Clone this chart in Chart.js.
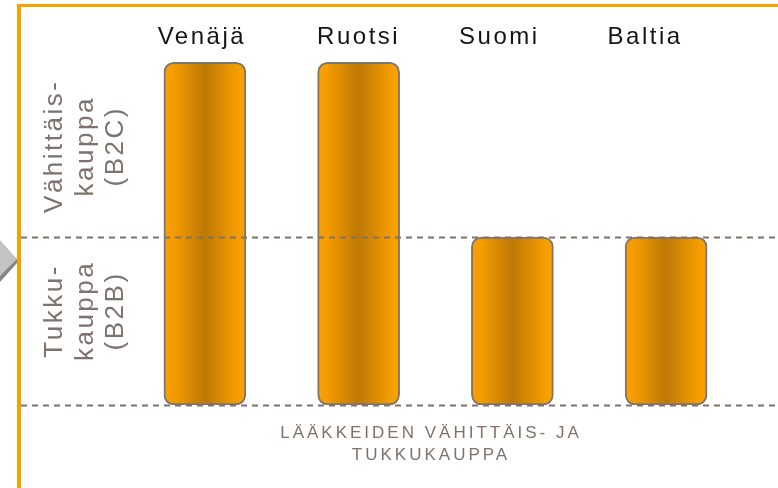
<!DOCTYPE html>
<html>
<head>
<meta charset="utf-8">
<script src="https://cdn.jsdelivr.net/npm/chart.js@4"></script>
<style>
  body { margin: 0; background: #fff; }
  #wrap { width: 778px; height: 488px; }
</style>
</head>
<body>
<div id="wrap"><canvas id="barChart" width="778" height="488"></canvas></div>
<script>
// data
var categories = ['Venäjä', 'Ruotsi', 'Suomi', 'Baltia'];
var values = [2.04, 2.04, 1, 1];
var levels = [0, 1];                       // dashed reference lines
var sideTop = ['Vähittäis-', 'kauppa', '(B2C)'];
var sideBottom = ['Tukku-', 'kauppa', '(B2B)'];
var caption = ['LÄÄKKEIDEN VÄHITTÄIS- JA', 'TUKKUKAUPPA'];

var FONT = '"Liberation Sans", Arial, sans-serif';
var ORANGE = '#f6a300';
var GREY = '#7d726c';
var labelShift = [-3, 0, -13, -21];        // headers are not quite centred on the bars

var decor = {
    id: 'decor',
    beforeDraw: function (chart) {
        var c = chart.ctx;
        c.save();
        // orange frame
        c.fillStyle = ORANGE;
        c.fillRect(17, 4, 4, 484);
        c.fillRect(17, 4, 761, 3);
        // grey arrow on the left
        c.fillStyle = '#858585';
        c.beginPath();
        c.moveTo(0, 250); c.lineTo(17, 259); c.lineTo(17, 263); c.lineTo(0, 282);
        c.closePath(); c.fill();
        c.fillStyle = '#c3c3c3';
        c.beginPath();
        c.moveTo(0, 240); c.lineTo(17, 259); c.lineTo(0, 276);
        c.closePath(); c.fill();
        c.restore();
    },
    afterDatasetsDraw: function (chart) {
        var c = chart.ctx, y = chart.scales.y;
        c.save();
        c.strokeStyle = GREY;
        c.lineWidth = 2;
        c.setLineDash([6, 5]);
        levels.forEach(function (v) {
            var py = Math.round(y.getPixelForValue(v)) + 0.5;
            c.beginPath();
            c.moveTo(21, py);
            c.lineTo(chart.width, py);
            c.stroke();
        });
        c.restore();
    },
    afterDraw: function (chart) {
        var c = chart.ctx, x = chart.scales.x, y = chart.scales.y;
        c.save();
        c.textAlign = 'center';
        c.textBaseline = 'alphabetic';
        // category headers
        c.fillStyle = '#141414';
        c.font = '24px ' + FONT;
        c.letterSpacing = '2.5px';
        categories.forEach(function (t, i) {
            c.fillText(t, x.getPixelForValue(i) + labelShift[i], 44);
        });
        // rotated row labels
        c.fillStyle = GREY;
        c.font = '26px ' + FONT;
        var baselines = [62, 92.5, 123];
        [[sideTop, 1.54], [sideBottom, 0.56]].forEach(function (blk) {
            c.save();
            c.translate(0, y.getPixelForValue(blk[1]));
            c.rotate(-Math.PI / 2);
            blk[0].forEach(function (t, i) { c.fillText(t, 0, baselines[i]); });
            c.restore();
        });
        // caption
        c.font = '17px ' + FONT;
        c.letterSpacing = '3px';
        c.fillText(caption[0], 431, 438);
        c.fillText(caption[1], 431, 460);
        c.restore();
    }
};

var barCtx = document.getElementById('barChart').getContext('2d');
var barChart = new Chart(barCtx, {
    type: 'bar',
    data: {
        labels: categories,
        datasets: [{
            data: values,
            backgroundColor: function (ctx) {
                var ch = ctx.chart, x = ch.scales.x;
                if (!x || !ch.chartArea) return '#e08e00';
                var cx = x.getPixelForValue(ctx.dataIndex);
                var g = ch.ctx.createLinearGradient(cx - 41, 0, cx + 41, 0);
                g.addColorStop(0, '#f9a100');
                g.addColorStop(0.12, '#f49c00');
                g.addColorStop(0.5, '#be7805');
                g.addColorStop(0.88, '#f39c00');
                g.addColorStop(1, '#fba300');
                return g;
            },
            borderColor: '#7f7570',
            borderWidth: 2,
            borderRadius: 10,
            borderSkipped: false,
            barThickness: 82
        }]
    },
    options: {
        responsive: false,
        animation: false,
        layout: { padding: { left: 128, right: 35, top: 0, bottom: 83 } },
        plugins: { legend: { display: false }, tooltip: { enabled: false } },
        scales: {
            x: {
                position: 'top',
                grid: { display: false, drawTicks: false },
                border: { display: false },
                ticks: { display: false },
                afterFit: function (s) { s.height = 50; }
            },
            y: { display: false, min: 0, max: 2.113 }
        }
    },
    plugins: [decor]
});
</script>
</body>
</html>
